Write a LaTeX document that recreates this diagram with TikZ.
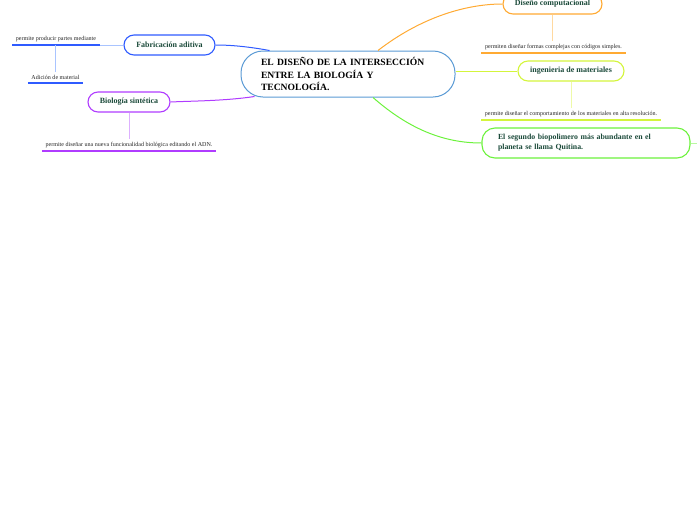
\documentclass[tikz,border=0pt]{standalone}
\usepackage{fontspec}
\setmainfont{Liberation Serif}
\usetikzlibrary{calc}
\definecolor{txtgreen}{HTML}{1B4A3A}
\definecolor{cblue}{HTML}{5B9BD5}
\definecolor{fabblue}{HTML}{2F5BFF}
\definecolor{fablight}{HTML}{A9C4FF}
\definecolor{bioviolet}{HTML}{B03CFF}
\definecolor{biolight}{HTML}{DDB0FF}
\definecolor{comporange}{HTML}{FFAA33}
\definecolor{complight}{HTML}{FFD9A0}
\definecolor{matyellow}{HTML}{D4F53C}
\definecolor{matlight}{HTML}{EEFAA8}
\definecolor{quitgreen}{HTML}{6CF23C}
\definecolor{quitlight}{HTML}{B9F8A0}
\tikzset{
  mainbox/.style={draw=cblue, line width=1pt, fill=white, rounded corners=22pt,
    minimum width=214pt, minimum height=46pt, inner xsep=20pt, text width=174pt,
    align=left, font=\bfseries\fontsize{9.6}{12.5}\selectfont},
  topicbox/.style={draw=#1, line width=1.1pt, fill=white, rounded corners=10pt,
    minimum height=20pt, inner sep=0pt, text=txtgreen,
    font=\bfseries\fontsize{8}{9}\selectfont},
  subtext/.style={anchor=south, inner xsep=3.5pt, inner ysep=3pt,
    font=\fontsize{6.05}{7}\selectfont, text=black!85},
  uline/.style={line width=1.8pt, draw=#1},
  conn/.style={line width=1pt, draw=#1},
  thin/.style={line width=0.8pt, draw=#1}
}
\begin{document}
\begin{tikzpicture}[x=1pt,y=-1pt]
\useasboundingbox (0,0) rectangle (697,520);

% central
\node[mainbox] (c) at (348,74) {EL DISEÑO DE LA INTERSECCIÓN\\ENTRE LA BIOLOGÍA Y\\TECNOLOGÍA.};

% topic boxes
\node[topicbox=fabblue, minimum width=91pt] (fab) at (169.5,45) {Fabricación aditiva};
\node[topicbox=bioviolet, minimum width=82pt] (bio) at (129,102) {Biología sintética};
\node[topicbox=comporange, minimum width=99pt] (comp) at (552.5,4) {Diseño computacional};
\node[topicbox=matyellow, minimum width=106pt] (mat) at (571,71) {ingenieria de materiales};
\node[topicbox=quitgreen, minimum width=208pt, minimum height=30pt, rounded corners=13pt,
  inner xsep=16pt, text width=176pt, align=left, font=\bfseries\fontsize{7.8}{10}\selectfont] (quit) at (586,143)
  {El segundo biopolimero más abundante en el\\planeta se llama Quitina.};

% sub texts
\node[subtext] (perm) at (56,45) {permite producir partes mediante};
\node[subtext] (adic) at (55.5,83) {Adición de material};
\node[subtext] (biot) at (129,151) {permite diseñar una nueva funcionalidad biológica editando el ADN.};
\node[subtext] (compt) at (553.5,53) {permiten diseñar formas complejas con códigos simples.};
\node[subtext] (matt) at (571,120) {permite diseñar el comportamiento de los materiales en alta resolución.};

% underlines
\draw[uline=fabblue] (perm.south west) -- (perm.south east);
\draw[uline=fabblue] (adic.south west) -- (adic.south east);
\draw[uline=bioviolet] (biot.south west) -- (biot.south east);
\draw[uline=comporange] (compt.south west) -- (compt.south east);
\draw[uline=matyellow] (matt.south west) -- (matt.south east);

% connectors from central
\draw[conn=fabblue] ($(c.north west)+(29,0)$) .. controls (245,46) and (228,45) .. (fab.east);
\draw[conn=bioviolet] ($(c.south west)+(14,-1)$) .. controls (225,101) and (190,101) .. (bio.east);
\draw[conn=comporange] ($(c.north)+(30,0)$) .. controls (420,18) and (465,4) .. (comp.west);
\draw[conn=matyellow] (c.east |- mat.west) -- (mat.west);
\draw[conn=quitgreen] ($(c.south)+(25,0)$) .. controls (410,130) and (445,143) .. (quit.west);
\draw[thin=quitlight] (quit.east) -- (697,143);

% connectors to sub texts
\draw[thin=fablight] (fab.west) -- (perm.south east);
\draw[thin=fablight] (perm.south) ++(-1,0) coordinate (pj) (pj) -- (adic.north -| pj);
\draw[thin=biolight] (bio.south) -- (biot.north);
\draw[thin=complight] (comp.south) -- (compt.north -| comp.south);
\draw[thin=matlight] (mat.south) -- (matt.north);
\end{tikzpicture}
\end{document}
